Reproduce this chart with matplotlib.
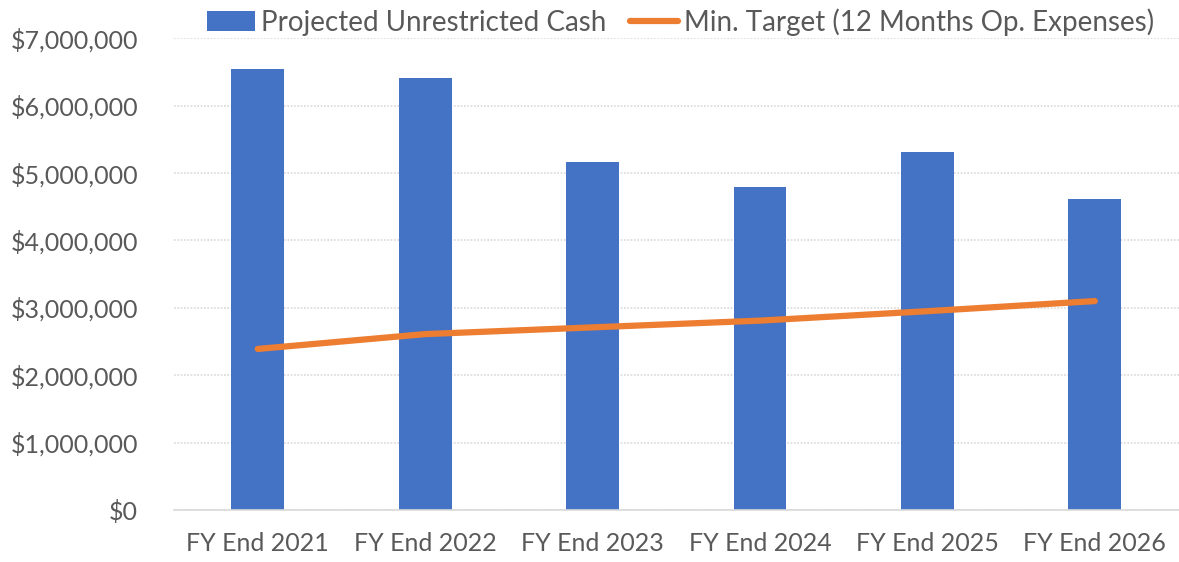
import matplotlib
matplotlib.use("Agg")
import matplotlib.pyplot as plt
import numpy as np
from matplotlib.ticker import FuncFormatter

categories = ["FY End 2021", "FY End 2022", "FY End 2023", "FY End 2024", "FY End 2025", "FY End 2026"]
cash = [6540000, 6410000, 5160000, 4790000, 5310000, 4610000]
target = [2390000, 2610000, 2710000, 2810000, 2950000, 3100000]

BLUE = "#4472C4"
ORANGE = "#ED7D31"
TEXT = "#595959"

plt.rcParams["font.family"] = ["Lato", "DejaVu Sans"]

fig = plt.figure(figsize=(11.79, 5.62), dpi=100)
ax = fig.add_axes([0.1476, 0.0925, 0.852, 0.8395])

x = np.arange(len(categories))
bars = ax.bar(x, cash, width=0.315, color=BLUE, label="Projected Unrestricted Cash", zorder=2)
line, = ax.plot(x, target, color=ORANGE, linewidth=4.5, solid_capstyle="round",
                label="Min. Target (12 Months Op. Expenses)", zorder=3)

ax.set_xlim(-0.5, len(categories) - 0.5)
ax.set_ylim(0, 7000000)
ax.set_yticks(np.arange(0, 7000001, 1000000))
ax.yaxis.set_major_formatter(FuncFormatter(lambda v, p: f"${v:,.0f}"))
ax.set_xticks(x)
ax.set_xticklabels(categories)
ax.tick_params(axis="both", length=0, labelsize=18, colors=TEXT)
ax.tick_params(axis="x", pad=16)
ax.tick_params(axis="y", pad=26)

ax.yaxis.grid(True, color="#D9D9D9", linestyle=(0, (1, 1)), linewidth=1.2, zorder=0)
ax.set_axisbelow(True)
for s in ["top", "right", "left"]:
    ax.spines[s].set_visible(False)
ax.spines["bottom"].set_color("#D9D9D9")
ax.spines["bottom"].set_linewidth(1.2)

fig.legend([bars, line], [bars.get_label(), line.get_label()],
           loc="upper center", bbox_to_anchor=(0.577, 1.03), ncol=2, frameon=False,
           fontsize=20, labelcolor=TEXT, handlelength=1.75, columnspacing=0.85,
           handletextpad=0.2)

fig.savefig("out.png", dpi=100)
